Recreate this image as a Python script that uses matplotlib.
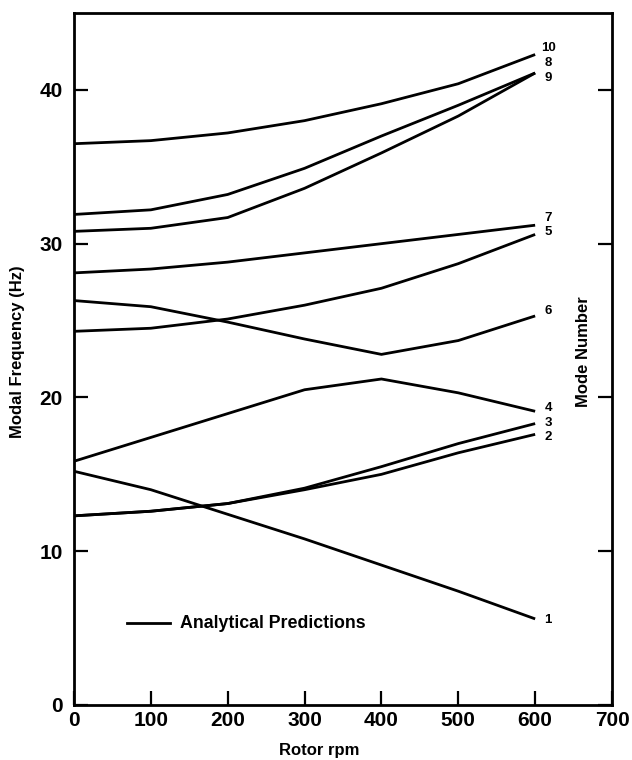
import matplotlib
matplotlib.use("Agg")
import matplotlib.pyplot as plt

plt.rcParams['font.family'] = ['Liberation Sans', 'DejaVu Sans']

rpm = [0, 100, 200, 300, 400, 500, 600]
mode1 = [15.2, 14.0, 12.4, 10.8, 9.1, 7.4, 5.6]
mode2 = [12.3, 12.6, 13.1, 14.0, 15.0, 16.4, 17.6]
mode3 = [12.3, 12.6, 13.1, 14.1, 15.5, 17.0, 18.3]
mode4 = [15.85, 17.4, 18.95, 20.5, 21.2, 20.3, 19.1]
mode5 = [24.3, 24.5, 25.1, 26.0, 27.1, 28.7, 30.6]
mode6 = [26.3, 25.9, 24.9, 23.8, 22.8, 23.7, 25.3]
mode7 = [28.1, 28.35, 28.8, 29.4, 30.0, 30.6, 31.2]
mode8 = [31.9, 32.2, 33.2, 34.9, 37.0, 39.0, 41.1]
mode9 = [30.8, 31.0, 31.7, 33.6, 35.9, 38.3, 41.1]
mode10 = [36.5, 36.7, 37.2, 38.0, 39.1, 40.4, 42.3]

modes = [mode1, mode2, mode3, mode4, mode5, mode6, mode7, mode8, mode9, mode10]
mode_labels = ['1', '2', '3', '4', '5', '6', '7', '8', '9', '10']
label_y = [5.5, 17.4, 18.35, 19.3, 30.75, 25.6, 31.7, 41.75, 40.8, 42.75]

xticks = [0, 100, 200, 300, 400, 500, 600, 700]
yticks = [0, 10, 20, 30, 40]

fig = plt.figure(figsize=(6.32, 7.6), dpi=100)
ax = fig.add_axes([74 / 632, 1 - 705 / 760, (612 - 74) / 632, (705 - 13) / 760])

for m in modes:
    ax.plot(rpm, m, color='black', lw=2.0, solid_capstyle='butt')

for lab, yv in zip(mode_labels, label_y):
    ax.text(617, yv, lab, ha='center', va='center', fontsize=9.5,
            fontweight='bold')

# legend
ax.plot([69, 125], [5.3, 5.3], color='black', lw=2.0)
ax.text(138, 5.3, 'Analytical Predictions', ha='left', va='center',
        fontsize=12.8, fontweight='bold')

ax.set_xlim(0, 700)
ax.set_ylim(0, 45)
ax.set_xticks(xticks)
ax.set_yticks(yticks)
ax.tick_params(direction='in', length=10, width=1.6, labelsize=15,
               right=True, labelright=False)
ax.tick_params(axis='x', pad=4)
ax.tick_params(axis='y', pad=8)
for lab in ax.get_xticklabels() + ax.get_yticklabels():
    lab.set_fontweight('bold')
for s in ax.spines.values():
    s.set_linewidth(2.0)

ax.set_xlabel('Rotor rpm', fontsize=12, fontweight='bold')
ax.xaxis.set_label_coords((319 - 74) / 538, (705 - 751) / 692)
ax.xaxis.label.set_va('center')
ax.set_ylabel('Modal Frequency (Hz)', fontsize=12, fontweight='bold')
ax.yaxis.set_label_coords((18 - 74) / 538, (705 - 352) / 692)
ax.yaxis.label.set_va('center')
fig.text(583 / 632, 1 - 352 / 760, 'Mode Number', rotation=90, ha='center',
         va='center', fontsize=12, fontweight='bold')

fig.savefig('out.png', dpi=100)
